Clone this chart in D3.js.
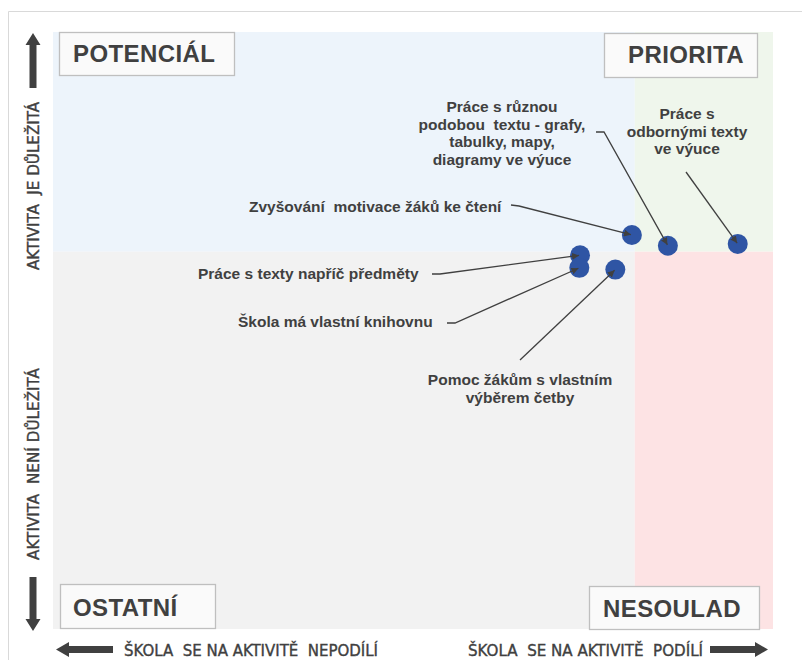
<!DOCTYPE html>
<html>
<head>
<meta charset="utf-8">
<script src="https://cdn.jsdelivr.net/npm/d3@7"></script>
<style>
  body { margin: 0; background: #fff; }
  svg { display: block; }
  text { white-space: pre; }
</style>
</head>
<body>
<div class="chart"></div>
<script>
// activities and their position in the matrix
const activities = [
  "Zvyšování motivace žáků ke čtení",
  "Práce s různou podobou textu - grafy, tabulky, mapy, diagramy ve výuce",
  "Práce s odbornými texty ve výuce",
  "Práce s texty napříč předměty",
  "Škola má vlastní knihovnu",
  "Pomoc žákům s vlastním výběrem četby"
];
const participation = [80.4, 85.4, 95.1, 73.2, 73.1, 78.1];
const importance = [66.0, 64.2, 64.5, 62.6, 60.5, 60.2];

// label lines as shown on the chart
const labelLines = [
  ["Zvyšování  motivace žáků ke čtení"],
  ["Práce s různou", "podobou  textu - grafy,", "tabulky, mapy,", "diagramy ve výuce"],
  ["Práce s", "odbornými texty", "ve výuce"],
  ["Práce s texty napříč předměty"],
  ["Škola má vlastní knihovnu"],
  ["Pomoc žákům s vlastním", "výběrem četby"]
];

const quadrants = ["POTENCIÁL", "PRIORITA", "OSTATNÍ", "NESOULAD"];
const axisTexts = ["AKTIVITA  JE DŮLEŽITÁ", "AKTIVITA  NENÍ DŮLEŽITÁ",
  "ŠKOLA  SE NA AKTIVITĚ  NEPODÍLÍ", "ŠKOLA  SE NA AKTIVITĚ  PODÍLÍ"];

const xSplit = 80.8, ySplit = 63.2;

const W = 802, H = 660;
const svg = d3.select("div.chart").append("svg")
  .attr("width", W).attr("height", H);

const x = d3.scaleLinear().domain([0, 100]).range([53, 773]);
const y = d3.scaleLinear().domain([0, 100]).range([629, 32]);

const textColor = "#404040";
const narrow = "'Liberation Sans Narrow', 'DejaVu Sans Condensed', 'Arial Narrow', sans-serif";
const bold = "'Liberation Sans', Arial, sans-serif";

// outer frame
svg.append("path")
  .attr("d", `M8.5,${H} L8.5,11.5 L${W},11.5`)
  .attr("fill", "none")
  .attr("stroke", "#d9d9d9");

// quadrant backgrounds
const bg = [
  { x0: 0, x1: xSplit, y0: ySplit, y1: 100, fill: "#edf4fb" },
  { x0: xSplit, x1: 100, y0: ySplit, y1: 100, fill: "#eff6ec" },
  { x0: 0, x1: xSplit, y0: 0, y1: ySplit, fill: "#f2f2f2" },
  { x0: xSplit, x1: 100, y0: 0, y1: ySplit, fill: "#fde3e4" }
];
svg.selectAll("rect.bg").data(bg).enter().append("rect")
  .attr("class", "bg")
  .attr("x", d => x(d.x0))
  .attr("y", d => y(d.y1))
  .attr("width", d => x(d.x1) - x(d.x0))
  .attr("height", d => y(d.y0) - y(d.y1))
  .attr("fill", d => d.fill);

// corner boxes
const boxes = [
  { x: 59, y: 32, w: 175, h: 43, tx: 73, ty: 62 },
  { x: 604, y: 33, w: 153, h: 44, tx: 628, ty: 63 },
  { x: 60, y: 584, w: 155, h: 44, tx: 73, ty: 616 },
  { x: 589, y: 586, w: 170, h: 43, tx: 603, ty: 617 }
];
boxes.forEach((b, i) => {
  svg.append("rect")
    .attr("x", b.x + 0.5).attr("y", b.y + 0.5)
    .attr("width", b.w).attr("height", b.h)
    .attr("fill", "#fafafa")
    .attr("stroke", "#bfbfbf")
    .attr("stroke-width", 1.3);
  svg.append("text")
    .attr("x", b.tx).attr("y", b.ty)
    .attr("font-family", bold)
    .attr("font-weight", "bold")
    .attr("font-size", 24)
    .attr("letter-spacing", 0.4)
    .attr("fill", textColor)
    .text(quadrants[i]);
});

// thick axis arrows
const arrows = [
  "M33,33 L40.5,45 L36.5,45 L36.5,88 L29.5,88 L29.5,45 L25.5,45 Z",
  "M33,631 L40.5,619 L36.5,619 L36.5,577 L29.5,577 L29.5,619 L25.5,619 Z",
  "M56,649.5 L69,642 L69,646 L113,646 L113,653 L69,653 L69,657 Z",
  "M768,649.5 L755,642 L755,646 L710,646 L710,653 L755,653 L755,657 Z"
];
svg.selectAll("path.axis-arrow").data(arrows).enter().append("path")
  .attr("class", "axis-arrow")
  .attr("d", d => d)
  .attr("fill", textColor);

// axis captions
const vert = [{ t: axisTexts[0], y0: 270, len: 168 }, { t: axisTexts[1], y0: 560, len: 192 }];
vert.forEach(v => {
  svg.append("text")
    .attr("transform", `translate(39,${v.y0}) rotate(-90)`)
    .attr("font-family", narrow)
    .attr("font-size", 16)
    .attr("textLength", v.len)
    .attr("lengthAdjust", "spacingAndGlyphs")
    .attr("fill", textColor)
    .attr("stroke", textColor)
    .attr("stroke-width", 0.35)
    .text(v.t);
});
const horiz = [{ t: axisTexts[2], x: 124, len: 254 }, { t: axisTexts[3], x: 468, len: 235 }];
horiz.forEach(h => {
  svg.append("text")
    .attr("x", h.x).attr("y", 656)
    .attr("font-family", narrow)
    .attr("font-size", 16)
    .attr("textLength", h.len)
    .attr("lengthAdjust", "spacingAndGlyphs")
    .attr("fill", textColor)
    .attr("stroke", textColor)
    .attr("stroke-width", 0.35)
    .text(h.t);
});

// points
const points = activities.map((a, i) => ({
  name: a, px: x(participation[i]), py: y(importance[i]), lines: labelLines[i]
}));

svg.selectAll("circle.pt").data(points).enter().append("circle")
  .attr("class", "pt")
  .attr("cx", d => d.px)
  .attr("cy", d => d.py)
  .attr("r", 10)
  .attr("fill", "#2f55a4");

// labels and leader lines
const labelPos = [
  { anchor: "start", x: 249, y: 212, lead: [[511, 205], [519, 206]] },
  { anchor: "middle", x: 502, y: 112, lead: [[596, 132], [604, 132]] },
  { anchor: "middle", x: 687, y: 119, lead: [[686, 172]] },
  { anchor: "start", x: 198, y: 279, lead: [[432, 274], [440, 274]] },
  { anchor: "start", x: 238, y: 327, lead: [[447, 323], [455, 323]] },
  { anchor: "middle", x: 520, y: 385, lead: [[520, 360]] }
];

svg.append("defs").append("marker")
  .attr("id", "lead-arrow")
  .attr("viewBox", "0 -5 10 10")
  .attr("refX", 10)
  .attr("refY", 0)
  .attr("markerWidth", 7)
  .attr("markerHeight", 7)
  .attr("markerUnits", "userSpaceOnUse")
  .attr("orient", "auto")
  .append("path")
  .attr("d", "M0,-5L10,0L0,5Z")
  .attr("fill", textColor);

const line = d3.line();
points.forEach((p, i) => {
  const lp = labelPos[i];
  const pts = lp.lead.slice();
  const last = pts[pts.length - 1];
  const dx = p.px - last[0], dy = p.py - last[1];
  const len = Math.sqrt(dx * dx + dy * dy);
  pts.push([p.px - dx / len, p.py - dy / len]);
  svg.append("path")
    .attr("d", line(pts))
    .attr("fill", "none")
    .attr("stroke", textColor)
    .attr("stroke-width", 1.3)
    .attr("marker-end", "url(#lead-arrow)");

  const t = svg.append("text")
    .attr("text-anchor", lp.anchor)
    .attr("font-family", bold)
    .attr("font-weight", "bold")
    .attr("font-size", 15.5)
    .attr("fill", textColor);
  p.lines.forEach((ln, j) => {
    t.append("tspan")
      .attr("x", lp.x)
      .attr("y", lp.y + j * 17.7)
      .text(ln);
  });
});
</script>
</body>
</html>
